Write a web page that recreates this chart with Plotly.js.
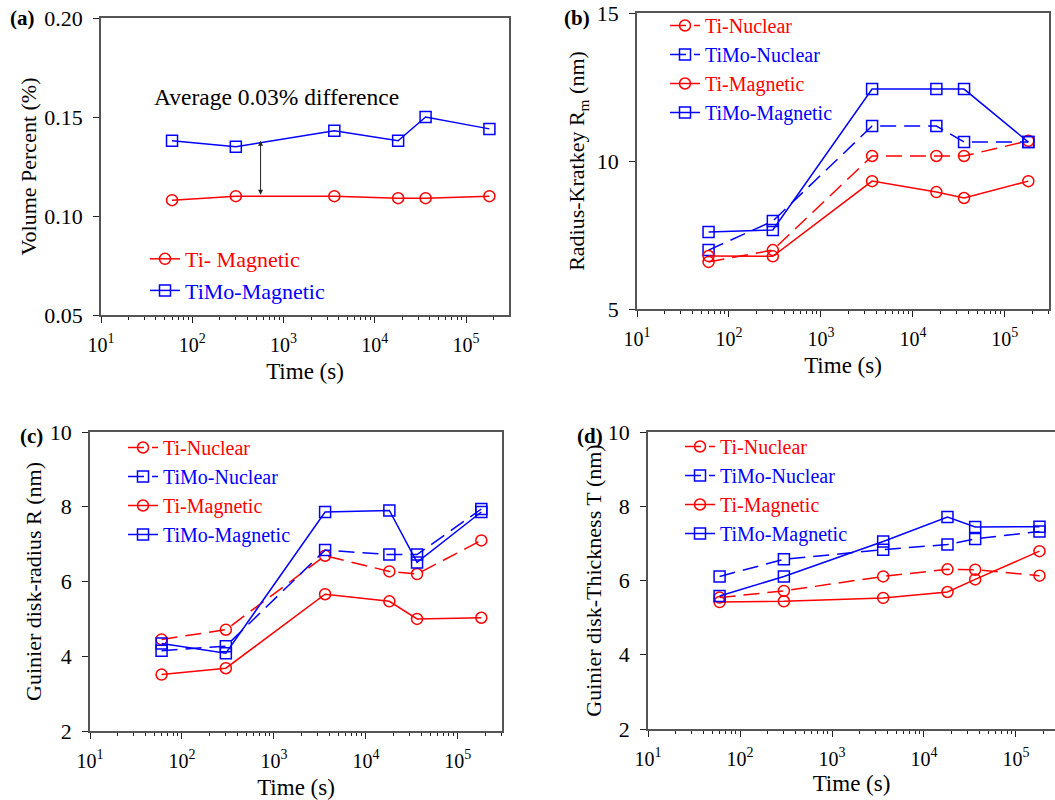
<!DOCTYPE html>
<html><head><meta charset="utf-8">
<script src="https://cdn.plot.ly/plotly-3.0.1.min.js"></script>
<style>body{margin:0;padding:0;background:#fff}#chart{width:1055px;height:800px}</style>
</head><body><div id="chart"></div>
<script>
// ---- data ----
const timeS = [60, 300, 3600, 18000, 36000, 180000];
// (a) volume percent
const volTiMag   = [0.108, 0.110, 0.110, 0.109, 0.109, 0.110];
const volTiMoMag = [0.138, 0.135, 0.143, 0.138, 0.150, 0.144];
// (b) Radius-Kratkey Rm
const rkTiNuc   = [6.59, 6.99, 10.17, 10.17, 10.17, 10.68];
const rkTiMoNuc = [6.99, 7.97, 11.18, 11.18, 10.64, 10.64];
const rkTiMag   = [6.79, 6.78, 9.32, 8.95, 8.75, 9.32];
const rkTiMoMag = [7.60, 7.67, 12.43, 12.43, 12.43, 10.64];
// (c) Guinier disk-radius R
const grTiNuc   = [4.45, 4.71, 6.69, 6.27, 6.20, 7.10];
const grTiMoNuc = [4.15, 4.27, 6.84, 6.72, 6.72, 7.94];
const grTiMag   = [3.51, 3.68, 5.66, 5.47, 5.00, 5.03];
const grTiMoMag = [4.34, 4.08, 7.86, 7.90, 6.51, 7.86];
// (d) Guinier disk-Thickness T
const gtTiNuc   = [5.54, 5.72, 6.11, 6.30, 6.29, 6.13];
const gtTiMoNuc = [6.11, 6.57, 6.83, 6.97, 7.12, 7.32];
const gtTiMag   = [5.42, 5.44, 5.53, 5.69, 6.03, 6.79];
const gtTiMoMag = [5.58, 6.11, 7.05, 7.71, 7.44, 7.45];
// tick labels
const xTickVals = [10, 100, 1000, 10000, 100000];
const xTickText = ['10<sup>1</sup>', '10<sup>2</sup>', '10<sup>3</sup>', '10<sup>4</sup>', '10<sup>5</sup>'];
const yTicksA = [0.05, 0.10, 0.15, 0.20];
const yTicksAText = ['0.05', '0.10', '0.15', '0.20'];
const yTicksB = [5, 10, 15];
const yTicksCD = [2, 4, 6, 8, 10];
// arrow in (a): time and the two ends
const arrowTime = 560;
const arrowEnds = [0.110, 0.138];

// ---- styles ----
const RED = '#ff0000', BLUE = '#0000ff';
const FONT = 'Liberation Serif';
const W = 1055, H = 800;
function dx(px) { return px / W; }
function dy(px) { return (H - px) / H; }
const colored = (txt, c) => '<span style="color:' + c + '">' + txt + '</span>';

function tr(x, y, name, color, dashed, sym, xa, ya, leg) {
  return {
    x: x, y: y, name: colored(name, color), type: 'scatter', mode: 'lines+markers',
    xaxis: xa, yaxis: ya, legend: leg,
    line: {color: color, width: 1.5, dash: dashed ? '16px,8px' : 'solid'},
    marker: {symbol: sym, size: 11, color: color, line: {color: color, width: 1.5}},
    hoverinfo: 'x+y'
  };
}

const data = [
  tr(timeS, volTiMag, 'Ti- Magnetic', RED, false, 'circle-open', 'x', 'y', 'legend'),
  tr(timeS, volTiMoMag, 'TiMo-Magnetic', BLUE, false, 'square-open', 'x', 'y', 'legend'),

  tr(timeS, rkTiNuc, 'Ti-Nuclear', RED, true, 'circle-open', 'x2', 'y2', 'legend2'),
  tr(timeS, rkTiMoNuc, 'TiMo-Nuclear', BLUE, true, 'square-open', 'x2', 'y2', 'legend2'),
  tr(timeS, rkTiMag, 'Ti-Magnetic', RED, false, 'circle-open', 'x2', 'y2', 'legend2'),
  tr(timeS, rkTiMoMag, 'TiMo-Magnetic', BLUE, false, 'square-open', 'x2', 'y2', 'legend2'),

  tr(timeS, grTiNuc, 'Ti-Nuclear', RED, true, 'circle-open', 'x3', 'y3', 'legend3'),
  tr(timeS, grTiMoNuc, 'TiMo-Nuclear', BLUE, true, 'square-open', 'x3', 'y3', 'legend3'),
  tr(timeS, grTiMag, 'Ti-Magnetic', RED, false, 'circle-open', 'x3', 'y3', 'legend3'),
  tr(timeS, grTiMoMag, 'TiMo-Magnetic', BLUE, false, 'square-open', 'x3', 'y3', 'legend3'),

  tr(timeS, gtTiNuc, 'Ti-Nuclear', RED, true, 'circle-open', 'x4', 'y4', 'legend4'),
  tr(timeS, gtTiMoNuc, 'TiMo-Nuclear', BLUE, true, 'square-open', 'x4', 'y4', 'legend4'),
  tr(timeS, gtTiMag, 'Ti-Magnetic', RED, false, 'circle-open', 'x4', 'y4', 'legend4'),
  tr(timeS, gtTiMoMag, 'TiMo-Magnetic', BLUE, false, 'square-open', 'x4', 'y4', 'legend4')
];

const LINE = '#555555';
function xax(domain, range, anchor, standoff) {
  return {
    type: 'log', domain: domain, range: range, anchor: anchor,
    tickmode: 'array', tickvals: xTickVals, ticktext: xTickText,
    ticks: 'outside', ticklen: 6, tickwidth: 1, tickcolor: '#222',
    minor: {ticks: 'outside', ticklen: 3, tickwidth: 1, tickcolor: '#222', dtick: 'D1', showgrid: false},
    showline: true, linecolor: LINE, linewidth: 1.5, mirror: true,
    showgrid: false, zeroline: false,
    tickfont: {family: FONT, size: 20, color: '#000'},
    ticklabelstandoff: 5,
    title: {text: 'Time (s)', font: {family: FONT, size: 23, color: '#000'}, standoff: standoff}
  };
}
function yax(domain, range, anchor, tv, tt, title, standoff) {
  const o = {
    domain: domain, range: range, anchor: anchor,
    tickmode: 'array', tickvals: tv,
    ticks: 'outside', ticklen: 6, tickwidth: 1, tickcolor: '#222',
    showline: true, linecolor: LINE, linewidth: 1.5, mirror: true,
    showgrid: false, zeroline: false,
    tickfont: {family: FONT, size: 22, color: '#000'},
    ticklabelstandoff: 6,
    title: {text: title, font: {family: FONT, size: 22, color: '#000'}, standoff: standoff}
  };
  if (tt) o.ticktext = tt;
  return o;
}
function leg(xpx, ypx, fs) {
  return {x: dx(xpx), y: dy(ypx), xanchor: 'left', yanchor: 'top',
    bgcolor: 'rgba(0,0,0,0)', borderwidth: 0, tracegroupgap: 0,
    font: {family: FONT, size: fs, color: '#000'}, itemwidth: 30};
}

const layout = {
  width: W, height: H, margin: {l: 0, r: 0, t: 0, b: 0},
  paper_bgcolor: '#fff', plot_bgcolor: '#fff', showlegend: true,
  font: {family: FONT, color: '#000'},
  xaxis:  xax([dx(101), dx(509)], [1, 5.47], 'y', 8),
  yaxis:  yax([dy(315), dy(18)], [0.05, 0.20], 'x', yTicksA, yTicksAText, 'Volume Percent (%)', 2),
  xaxis2: xax([dx(637), dx(1049)], [1, 5.48], 'y2', 8),
  yaxis2: yax([dy(309), dy(13)], [5, 15], 'x2', yTicksB, null, 'Radius-Kratkey R<sub>m</sub> (nm)', 6),
  xaxis3: xax([dx(90), dx(502)], [1, 5.48], 'y3', 8),
  yaxis3: yax([dy(731), dy(432)], [2, 10], 'x3', yTicksCD, null, 'Guinier disk-radius R (nm)', 2),
  xaxis4: xax([dx(648), 1], [1, 5.424], 'y4', 6),
  yaxis4: yax([dy(729), dy(432)], [2, 10], 'x4', yTicksCD, null, 'Guinier disk-Thickness T (nm)', 0),
  legend:  leg(145, 238, 22),
  legend2: leg(665, 6, 20),
  legend3: leg(123, 428, 20),
  legend4: leg(680, 427, 20),
  annotations: [
    {text: '<b>(a)</b>', xref: 'paper', yref: 'paper', x: dx(8), y: dy(18), xanchor: 'left', yanchor: 'middle', showarrow: false, font: {family: FONT, size: 21, color: '#000'}},
    {text: '<b>(b)</b>', xref: 'paper', yref: 'paper', x: dx(562), y: dy(18), xanchor: 'left', yanchor: 'middle', showarrow: false, font: {family: FONT, size: 21, color: '#000'}},
    {text: '<b>(c)</b>', xref: 'paper', yref: 'paper', x: dx(18), y: dy(436), xanchor: 'left', yanchor: 'middle', showarrow: false, font: {family: FONT, size: 21, color: '#000'}},
    {text: '<b>(d)</b>', xref: 'paper', yref: 'paper', x: dx(575), y: dy(436), xanchor: 'left', yanchor: 'middle', showarrow: false, font: {family: FONT, size: 21, color: '#000'}},
    {text: 'Average 0.03% difference', xref: 'paper', yref: 'paper', x: dx(152), y: dy(97), xanchor: 'left', yanchor: 'middle', showarrow: false, font: {family: FONT, size: 23.5, color: '#000'}},
    {text: '', xref: 'x', yref: 'y', axref: 'x', ayref: 'y',
     x: Math.log10(arrowTime), y: arrowEnds[1], ax: Math.log10(arrowTime), ay: arrowEnds[0],
     showarrow: true, arrowhead: 2, startarrowhead: 2, arrowside: 'end+start', arrowsize: 1, arrowwidth: 1, arrowcolor: '#222', standoff: 0, startstandoff: 0}
  ]
};

Plotly.newPlot('chart', data, layout, {displayModeBar: false});
</script>
</body></html>
